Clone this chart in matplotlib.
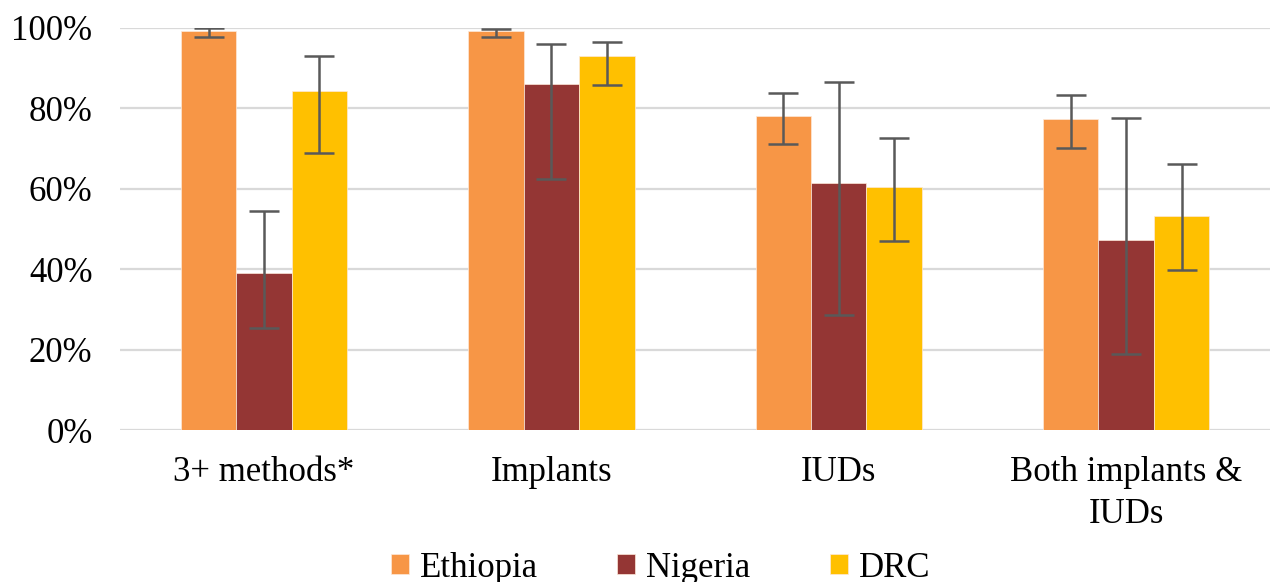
import matplotlib.pyplot as plt
import numpy as np

plt.rcParams['font.family'] = ['Liberation Serif', 'DejaVu Serif']

# categories and series
categories = ['3+ methods*', 'Implants', 'IUDs', 'Both implants &\nIUDs']
countries = ['Ethiopia', 'Nigeria', 'DRC']
colors = ['#F79646', '#943634', '#FFC000']

ethiopia = [99.3, 99.2, 78.1, 77.3]
ethiopia_lo = [97.8, 97.8, 71.1, 70.2]
ethiopia_hi = [100.0, 99.8, 83.9, 83.2]

nigeria = [39.0, 86.1, 61.4, 47.3]
nigeria_lo = [25.4, 62.4, 28.7, 19.0]
nigeria_hi = [54.4, 95.9, 86.5, 77.7]

drc = [84.4, 92.9, 60.4, 53.2]
drc_lo = [68.9, 85.8, 47.0, 39.7]
drc_hi = [93.0, 96.6, 72.6, 66.2]

values = [ethiopia, nigeria, drc]
lows = [ethiopia_lo, nigeria_lo, drc_lo]
highs = [ethiopia_hi, nigeria_hi, drc_hi]

fig = plt.figure(figsize=(12.8, 5.82), dpi=100)
ax = fig.add_axes([0.094, 0.261, 0.898, 0.691])

x = np.arange(len(categories))
width = 0.193
for i, name in enumerate(countries):
    v = np.array(values[i])
    err = [v - np.array(lows[i]), np.array(highs[i]) - v]
    ax.bar(x + (i - 1) * width, v, width, color=colors[i], label=name,
           edgecolor='#fde9d9', linewidth=0.5, zorder=2,
           yerr=err, error_kw=dict(ecolor='#595959', elinewidth=1.8,
                                   capsize=11, capthick=1.8, zorder=3))

ax.set_xlim(-0.5, 3.5)
ax.set_ylim(0, 100)
ax.set_yticks(np.arange(0, 101, 20))
ax.set_yticklabels([f'{t}%' for t in range(0, 101, 20)], fontsize=25)
ax.set_xticks(x)
ax.set_xticklabels(categories, fontsize=25, linespacing=1.33)
ax.tick_params(length=0)
ax.tick_params(axis='x', pad=19)
ax.tick_params(axis='y', pad=20)
ax.yaxis.grid(True, color='#D9D9D9', linewidth=1.6, zorder=0)
ax.set_axisbelow(True)
for s in ax.spines.values():
    s.set_visible(False)

fig.legend(loc='lower center', bbox_to_anchor=(0.516, -0.058), ncol=3,
           frameon=False, fontsize=25, handlelength=0.52, handleheight=0.52,
           handletextpad=0.3, columnspacing=2.3)

fig.savefig('out.png', dpi=100, facecolor='white')
